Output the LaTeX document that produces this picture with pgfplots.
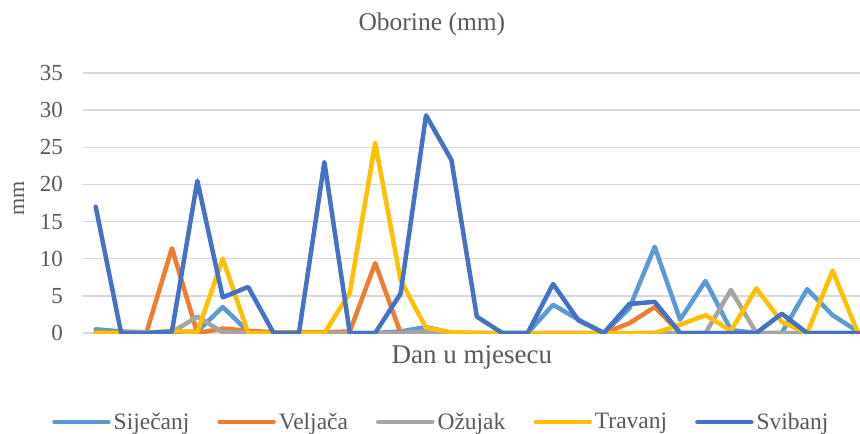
\documentclass[border=0pt]{standalone}
\usepackage{pgfplots}
\pgfplotsset{compat=1.18}
\usepackage{fontspec}
\setmainfont{Liberation Serif}
\definecolor{cSij}{HTML}{5B9BD5}
\definecolor{cVel}{HTML}{ED7D31}
\definecolor{cOzu}{HTML}{A5A5A5}
\definecolor{cTra}{HTML}{FFC000}
\definecolor{cSvi}{HTML}{4472C4}
\definecolor{cTxt}{HTML}{595959}
\definecolor{cGrid}{HTML}{D9D9D9}
\begin{document}
\begin{tikzpicture}
\useasboundingbox (-83pt,-101pt) rectangle (777pt,333pt);
\begin{axis}[
  scale only axis,
  width=777pt, height=260pt,
  xmin=0.5, xmax=31.08,
  ymin=0, ymax=35,
  ytick={0,5,...,35},
  xtick=\empty,
  major tick length=0pt,
  ymajorgrids,
  major grid style={color=cGrid, line width=1.3pt},
  separate axis lines,
  y axis line style={draw=none},
  x axis line style={draw=cGrid, line width=1.3pt},
  axis line style={draw=none},
  /pgf/number format/assume math mode=true,
  yticklabel style={font=\fontsize{23}{26}\selectfont, text=cTxt, anchor=east, inner sep=0pt, xshift=-20pt},
  title={Oborine (mm)},
  title style={font=\fontsize{25.5}{28}\selectfont, text=cTxt, at={(axis description cs:0.449,1.1385)}, anchor=base, inner sep=0pt},
  xlabel={Dan u mjesecu},
  xlabel style={font=\fontsize{27}{30}\selectfont, text=cTxt, at={(axis description cs:0.5006,-0.1154)}, anchor=base, inner sep=0pt},
  ylabel={mm},
  ylabel style={font=\fontsize{22}{25}\selectfont, text=cTxt, at={(axis description cs:-0.0824,0.519)}, anchor=center, inner sep=0pt, rotate=0},
  legend columns=5,
  legend style={draw=none, fill=none, inner sep=0pt, at={(axis description cs:-0.0399,-0.342)}, anchor=west,
    font=\fontsize{23.5}{26}\selectfont, text=cTxt,
    nodes={inner sep=0pt},
    /tikz/every odd column/.append style={column sep=3pt},
    /tikz/every even column/.append style={column sep=28pt}},
  legend image code/.code={\draw[#1, line cap=round] (0pt,0pt) -- (54pt,0pt);},
  every axis plot/.append style={line width=4.5pt, line join=round, line cap=round, mark=none},
  clip=true,
]
\addplot[color=cSij] coordinates {
(1,0.5)(2,0.2)(3,0.1)(4,0.1)(5,0.2)(6,3.5)(7,0.2)(8,0)(9,0)(10,0)
(11,0)(12,0)(13,0.2)(14,0.8)(15,0)(16,0)(17,0)(18,0)(19,3.8)(20,1.8)
(21,0)(22,3.3)(23,11.6)(24,1.8)(25,7.0)(26,0.4)(27,0)(28,0)(29,5.9)(30,2.4)(31,0.2)};
\addlegendentry{Siječanj}
\addplot[color=cVel] coordinates {
(1,0.1)(2,0.1)(3,0.1)(4,11.4)(5,0)(6,0.6)(7,0.3)(8,0.1)(9,0.1)(10,0.1)
(11,0.2)(12,9.4)(13,0)(14,0)(15,0)(16,0)(17,0)(18,0)(19,0)(20,0)
(21,0)(22,1.3)(23,3.5)(24,0)(25,0)(26,0)(27,0)(28,0)(29,0)(30,0)(31,0)};
\addlegendentry{Veljača}
\addplot[color=cOzu] coordinates {
(1,0)(2,0)(3,0.1)(4,0.1)(5,2.2)(6,0.1)(7,0)(8,0)(9,0)(10,0)
(11,0)(12,0)(13,0)(14,0.2)(15,0)(16,0)(17,0)(18,0)(19,0)(20,0)
(21,0)(22,0)(23,0)(24,0)(25,0)(26,5.8)(27,0)(28,0)(29,0)(30,0)(31,0)};
\addlegendentry{Ožujak}
\addplot[color=cTra] coordinates {
(1,0)(2,0)(3,0)(4,0.3)(5,0.1)(6,10.0)(7,0)(8,0)(9,0)(10,0)
(11,5.4)(12,25.6)(13,7.1)(14,0.7)(15,0.1)(16,0)(17,0)(18,0)(19,0)(20,0)
(21,0)(22,0)(23,0)(24,1.1)(25,2.4)(26,0.3)(27,6.0)(28,1.5)(29,0)(30,8.4)(31,0)};
\addlegendentry{Travanj}
\addplot[color=cSvi] coordinates {
(1,17.0)(2,0)(3,0)(4,0.2)(5,20.5)(6,4.8)(7,6.2)(8,0)(9,0)(10,23.0)
(11,0)(12,0)(13,5.3)(14,29.3)(15,23.3)(16,2.2)(17,0)(18,0)(19,6.6)(20,1.7)
(21,0)(22,3.9)(23,4.2)(24,0)(25,0)(26,0)(27,0)(28,2.6)(29,0)(30,0)(31,0)};
\addlegendentry{Svibanj}
\end{axis}
\end{tikzpicture}
\end{document}
